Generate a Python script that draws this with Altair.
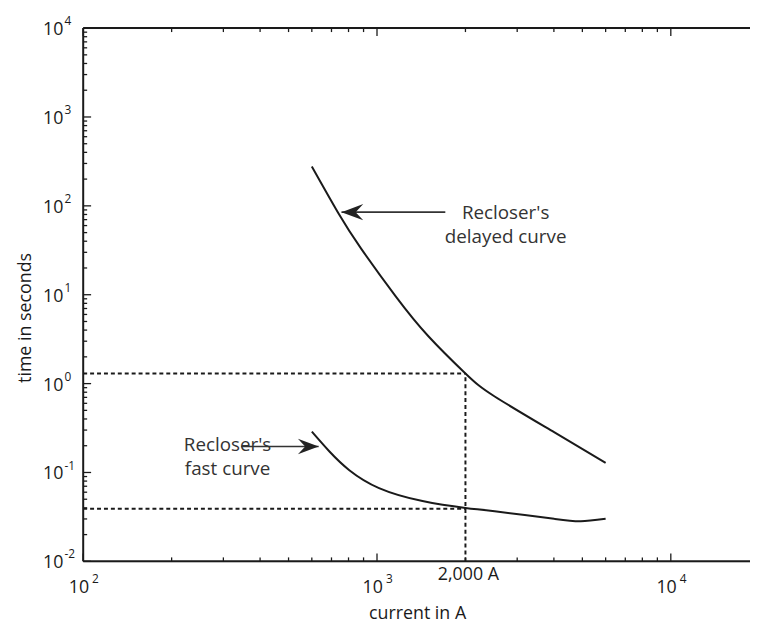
import altair as alt
import pandas as pd

# ---------------- data ----------------
delayed_current = [600, 739, 883, 1158, 1496, 2000, 2515, 4006, 6000]
delayed_time = [277, 82.5, 33.0, 9.58, 3.41, 1.30, 0.716, 0.284, 0.128]

fast_current = [600, 689, 805, 1016, 1428, 2000, 2515, 4006, 4940, 6000]
fast_time = [0.288, 0.172, 0.106, 0.0667, 0.0477, 0.0399, 0.0366, 0.0301, 0.0283, 0.0301]

fault_current = 2000
delayed_trip_time = 1.30
fast_trip_time = 0.039

x_domain = [100, 18600]
y_domain = [0.01, 10000]

x_exponents = [2, 3, 4]
y_exponents = [-2, -1, 0, 1, 2, 3, 4]
mantissas = [2, 3, 4, 5, 6, 7, 8, 9]

# annotation arrows: start, tip, level
delayed_arrow = {"x": 1708, "tip": 757, "y": 85}
fast_arrow = {"x": 345, "tip": 633, "y": 0.196}
annotations = [
    {"x": 2740, "y": 83, "text": "Recloser's\ndelayed curve"},
    {"x": 310, "y": 0.203, "text": "Recloser's\nfast curve"},
]
fault_label = "2,000 A"
x_title = "current in A"
y_title = "time in seconds"

# ---------------- layout ----------------
W, H = 674, 539
FONT = "Open Sans"
INK = "#1a1a1a"


def xs(field="x", **kw):
    return alt.X(field, type="quantitative",
                 scale=alt.Scale(type="log", domain=x_domain, nice=False), axis=None, **kw)


def ys(field="y", **kw):
    return alt.Y(field, type="quantitative",
                 scale=alt.Scale(type="log", domain=y_domain, nice=False), axis=None, **kw)


curves = pd.DataFrame(
    [{"x": c, "y": t, "curve": "delayed"} for c, t in zip(delayed_current, delayed_time)]
    + [{"x": c, "y": t, "curve": "fast"} for c, t in zip(fast_current, fast_time)]
)

curve_layer = alt.Chart(curves).mark_line(
    color=INK, strokeWidth=2, interpolate="natural"
).encode(x=xs("x"), y=ys("y"), detail="curve:N")

# dotted reference lines
hlines = pd.DataFrame([
    {"x": x_domain[0], "x2": fault_current, "y": delayed_trip_time},
    {"x": x_domain[0], "x2": fault_current, "y": fast_trip_time},
])
vline = pd.DataFrame([{"x": fault_current, "y": y_domain[0], "y2": delayed_trip_time}])

dot_h = alt.Chart(hlines).mark_rule(color=INK, strokeWidth=2, strokeDash=[4, 3]).encode(
    x=xs("x"), x2="x2", y=ys("y"))
dot_v = alt.Chart(vline).mark_rule(color=INK, strokeWidth=2, strokeDash=[4, 3]).encode(
    x=xs("x"), y=ys("y"), y2="y2")

# arrows
arrows = pd.DataFrame([
    {"x": delayed_arrow["x"], "x2": delayed_arrow["tip"], "y": delayed_arrow["y"], "dir": "left"},
    {"x": fast_arrow["x"], "x2": fast_arrow["tip"], "y": fast_arrow["y"], "dir": "right"},
])
arrow_lines = alt.Chart(arrows).mark_rule(color="#333", strokeWidth=1.6).encode(
    x=xs("x"), x2="x2", y=ys("y"))
head_left = alt.Chart(arrows[arrows.dir == "left"]).mark_point(
    shape="M0,0 L2,-0.75 L1.3,0 L2,0.75 Z", size=484, filled=True, opacity=1,
    color="#222", strokeWidth=0).encode(x=xs("x2"), y=ys("y"))
head_right = alt.Chart(arrows[arrows.dir == "right"]).mark_point(
    shape="M0,0 L-2,-0.75 L-1.3,0 L-2,0.75 Z", size=440, filled=True, opacity=1,
    color="#222", strokeWidth=0).encode(x=xs("x2"), y=ys("y"))

ann = alt.Chart(pd.DataFrame(annotations)).mark_text(
    font=FONT, fontSize=19, color="#333", align="center", baseline="middle",
    lineBreak="\n", lineHeight=24).encode(x=xs("x"), y=ys("y"), text="text:N")

# inward ticks
major_x = [10 ** e for e in x_exponents]
minor_x = [m * 10 ** e for e in [2, 3, 4] for m in mantissas if m * 10 ** e <= x_domain[1]]
major_y = [10 ** e for e in y_exponents]
minor_y = [m * 10.0 ** e for e in y_exponents[:-1] for m in mantissas]


def xticks(vals, length):
    d = pd.DataFrame({"x": vals})
    bottom = alt.Chart(d).mark_rule(color=INK, strokeWidth=1.3).encode(
        x=xs("x"), y=alt.value(H), y2=alt.value(H - length))
    top = alt.Chart(d).mark_rule(color=INK, strokeWidth=1.3).encode(
        x=xs("x"), y=alt.value(0), y2=alt.value(length))
    return [bottom, top]


def yticks(vals, length):
    d = pd.DataFrame({"y": vals})
    return [alt.Chart(d).mark_rule(color=INK, strokeWidth=1.3).encode(
        y=ys("y"), x=alt.value(0), x2=alt.value(length))]


tick_layers = xticks(major_x, 8) + xticks(minor_x, 4) + yticks(major_y, 8) + yticks(minor_y, 4)

frame_src = pd.DataFrame({"x": [x_domain[0]]})
top_frame = alt.Chart(frame_src).mark_rule(color=INK, strokeWidth=2).encode(
    x=alt.value(0), x2=alt.value(W), y=alt.value(0))
bottom_frame = alt.Chart(frame_src).mark_rule(color=INK, strokeWidth=2).encode(
    x=alt.value(0), x2=alt.value(W), y=alt.value(H))
left_frame = alt.Chart(frame_src).mark_rule(color=INK, strokeWidth=2).encode(
    x=alt.value(0), y=alt.value(0), y2=alt.value(H))

# tick labels 10^n
xl = pd.DataFrame({"x": major_x, "base": ["10"] * len(major_x),
                   "exp": [str(e) for e in x_exponents]})
ylb = pd.DataFrame({"y": major_y, "base": ["10"] * len(major_y),
                    "exp": [str(e) for e in y_exponents]})

x_base = alt.Chart(xl).mark_text(font=FONT, fontSize=18, color=INK, align="right",
                                 baseline="middle", dx=6).encode(
    x=xs("x"), y=alt.value(H + 27), text="base:N")
x_exp = alt.Chart(xl).mark_text(font=FONT, fontSize=12, color=INK, align="left",
                                baseline="middle", dx=9).encode(
    x=xs("x"), y=alt.value(H + 18), text="exp:N")
y_base = alt.Chart(ylb).mark_text(font=FONT, fontSize=18, color=INK, align="right",
                                  baseline="middle", dy=2).encode(
    y=ys("y"), x=alt.value(-20), text="base:N")
y_exp = alt.Chart(ylb).mark_text(font=FONT, fontSize=12, color=INK, align="left",
                                 baseline="middle", dy=-7).encode(
    y=ys("y"), x=alt.value(-19), text="exp:N")

fault_text = alt.Chart(pd.DataFrame({"x": [fault_current], "t": [fault_label]})).mark_text(
    font=FONT, fontSize=18, color=INK, align="center", baseline="middle", dx=3).encode(
    x=xs("x"), y=alt.value(H + 14), text="t:N")

titles = pd.DataFrame({"t": [x_title]})
x_title_mark = alt.Chart(titles).mark_text(
    font=FONT, fontSize=18, color=INK, align="center", baseline="middle").encode(
    x=alt.value(W / 2 + 1), y=alt.value(H + 53), text="t:N")
y_title_mark = alt.Chart(pd.DataFrame({"t": [y_title]})).mark_text(
    font=FONT, fontSize=18, color=INK, align="center", baseline="middle", angle=270).encode(
    x=alt.value(-58), y=alt.value(293), text="t:N")

chart = alt.layer(
    curve_layer, dot_h, dot_v, arrow_lines, head_left, head_right, ann,
    *tick_layers, top_frame, bottom_frame, left_frame,
    x_base, x_exp, y_base, y_exp, fault_text, x_title_mark, y_title_mark,
).properties(
    width=W, height=H,
    autosize=alt.AutoSizeParams(type="none"),
    padding={"left": 76, "top": 17, "right": 0, "bottom": 60},
).configure_view(stroke=None).configure(background="white")

chart.save("out.html", embed_options={"renderer": "svg", "actions": False})
